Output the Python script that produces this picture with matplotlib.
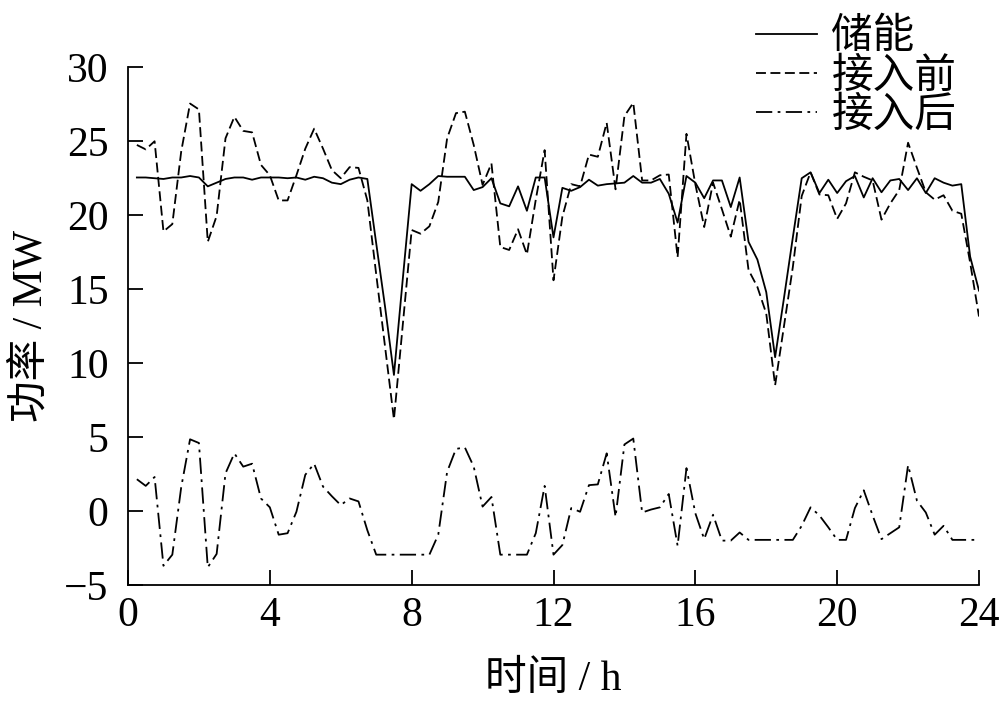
import matplotlib
matplotlib.use("Agg")
import matplotlib.pyplot as plt
import numpy as np

plt.rcParams['font.family'] = ['Liberation Serif', 'Noto Sans CJK SC', 'DejaVu Sans']
plt.rcParams['axes.unicode_minus'] = True

t = [0.25 * (i + 1) for i in range(96)]

storage = [22.55, 22.55, 22.5, 22.45, 22.55, 22.55, 22.65, 22.55,
           21.95, 22.2, 22.45, 22.55, 22.55, 22.4, 22.55, 22.55,
           22.55, 22.5, 22.55, 22.4, 22.6, 22.5, 22.2, 22.1,
           22.4, 22.55, 22.45, 18.1, 13.8, 9.2, 15.7, 22.1,
           21.65, 22.1, 22.65, 22.6, 22.6, 22.6, 21.7, 21.9,
           22.5, 20.8, 20.6, 21.95, 20.3, 22.55, 22.55, 18.5,
           21.85, 21.65, 21.9, 22.4, 22.0, 22.1, 22.15, 22.2,
           22.65, 22.2, 22.2, 22.45, 21.45, 19.5, 22.65, 22.2,
           21.15, 22.35, 22.35, 20.55, 22.55, 18.2, 17.0, 14.8,
           10.4, 14.4, 18.5, 22.5, 22.9, 21.5, 22.4, 21.5,
           22.3, 22.65, 21.2, 22.5, 21.55, 22.35, 22.45, 21.7,
           22.5, 21.5, 22.5, 22.2, 22.0, 22.1, 17.2, 14.9]

before = [24.75, 24.45, 25.0, 18.9, 19.4, 24.3, 27.55, 27.15,
          18.2, 19.95, 25.2, 26.65, 25.7, 25.6, 23.4, 22.7,
          21.0, 21.0, 22.7, 24.5, 25.85, 24.5, 23.05, 22.5,
          23.25, 23.2, 21.0, 16.0, 11.1, 6.2, 12.6, 19.0,
          18.75, 19.25, 20.9, 25.2, 26.9, 27.0, 24.75, 22.05,
          23.5, 17.85, 17.65, 19.05, 17.35, 21.05, 24.4, 15.6,
          19.9, 22.1, 21.95, 24.1, 23.95, 26.25, 21.75, 26.7,
          27.6, 22.35, 22.35, 22.7, 22.75, 17.15, 25.5, 22.1,
          19.2, 22.2, 20.4, 18.55, 21.05, 16.3, 15.15, 13.35,
          8.5, 12.5, 16.5, 21.3, 22.9, 21.4, 21.35, 19.75,
          20.8, 22.9, 22.6, 22.35, 19.7, 20.8, 21.7, 24.9,
          23.2, 21.55, 21.05, 21.35, 20.3, 20.1, 16.8, 13.15]

after = [2.15, 1.7, 2.3, -3.7, -2.95, 1.6, 4.85, 4.6,
         -3.8, -2.9, 2.55, 3.9, 3.0, 3.2, 0.85, 0.25,
         -1.6, -1.5, -0.05, 2.45, 3.2, 1.65, 1.0, 0.4,
         0.85, 0.65, -1.3, -2.95, -2.95, -2.95, -2.95, -2.95,
         -2.95, -2.95, -1.6, 2.65, 4.2, 4.3, 3.0, 0.3,
         0.95, -2.95, -2.95, -2.95, -2.95, -1.5, 1.7, -2.95,
         -2.3, 0.2, -0.05, 1.75, 1.8, 3.9, -0.4, 4.5,
         4.9, -0.1, 0.1, 0.25, 1.15, -2.35, 2.9, -0.15,
         -1.9, -0.25, -2.0, -2.0, -1.45, -1.95, -1.95, -1.95,
         -1.95, -1.95, -1.95, -1.0, 0.25, -0.3, -1.1, -1.95,
         -1.95, 0.2, 1.4, -0.3, -1.9, -1.5, -1.1, 3.1,
         0.7, -0.1, -1.6, -1.0, -1.95, -1.95, -1.95, -1.95]

labels = ['储能', '接入前', '接入后']
xticks = [0, 4, 8, 12, 16, 20, 24]
yticks = [-5, 0, 5, 10, 15, 20, 25, 30]

fig = plt.figure(figsize=(10.0, 7.01), dpi=100)
ax = fig.add_axes([0.128, 0.1655, 0.851, 0.7385])

lw = 1.3
l1, = ax.plot(t, storage, color='black', lw=lw, linestyle='-', label=labels[0])
l2, = ax.plot(t, before, color='black', lw=lw, linestyle=(0, (5.5, 2.5)), label=labels[1])
l3, = ax.plot(t, after, color='black', lw=lw, linestyle=(0, (9, 3, 1.5, 3)), label=labels[2])

ax.set_xlim(0, 24)
ax.set_ylim(-5, 30)
ax.set_xticks(xticks)
ax.set_yticks(yticks)
for s in ['top', 'right']:
    ax.spines[s].set_visible(False)
for s in ['left', 'bottom']:
    ax.spines[s].set_linewidth(1.3)
ax.tick_params(direction='in', length=10.5, width=1.3, labelsize=30, colors='black')
ax.tick_params(axis='y', pad=14)
ax.tick_params(axis='x', pad=8)

ax.set_xlabel('时间 / h', fontsize=30, labelpad=19)
ax.set_ylabel('功率 / MW', fontsize=30, labelpad=10)

leg = fig.legend(handles=[l1, l2, l3], labels=labels, loc='upper right',
                 bbox_to_anchor=(0.973, 0.997), frameon=False, fontsize=30,
                 handlelength=1.45, handletextpad=0.35, labelspacing=0.02,
                 borderaxespad=0.0)

fig.savefig('out.png', dpi=100)
